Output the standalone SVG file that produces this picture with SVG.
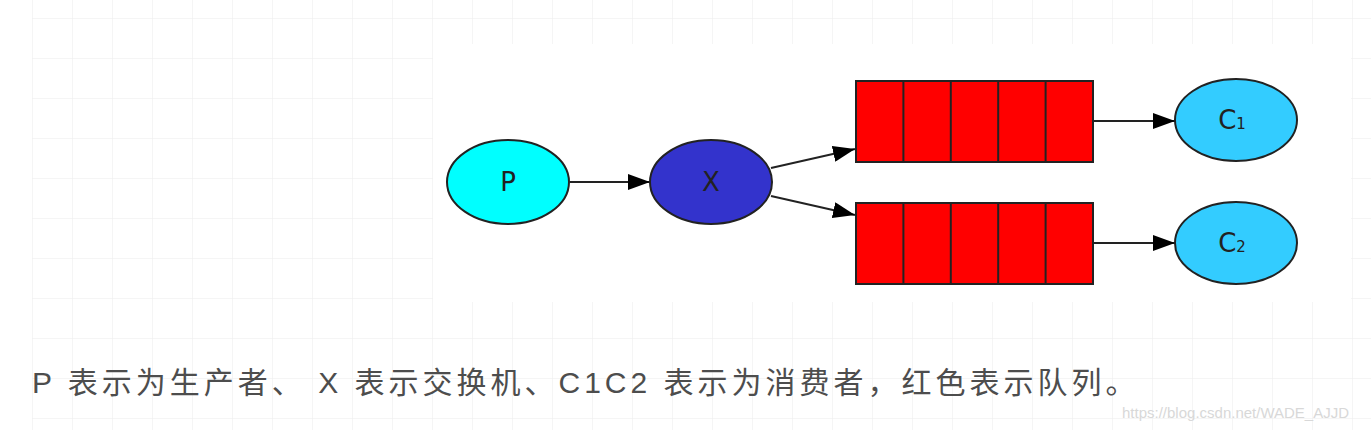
<svg xmlns="http://www.w3.org/2000/svg" width="1371" height="430" viewBox="0 0 1371 430">
<defs>
<pattern id="grid" x="32" y="18" width="40" height="40" patternUnits="userSpaceOnUse">
<path d="M0 0H40M0 0V40" fill="none" stroke="#ececec" stroke-width="1"/>
</pattern>
<marker id="arr" markerWidth="22" markerHeight="16" refX="22" refY="8" orient="auto" markerUnits="userSpaceOnUse" viewBox="0 0 22 16">
<path d="M0 0L22 8L0 16Z" fill="#000"/>
</marker>
<style>
.e{stroke:#222;stroke-width:2}
.q{fill:#ff0000;stroke:#222;stroke-width:2}
.t{font-family:"DejaVu Sans","Liberation Sans",sans-serif;font-size:26px;fill:#222;text-anchor:middle}
.c{stroke:#222;stroke-width:2;fill:none;marker-end:url(#arr)}
</style>
</defs>
<rect width="1371" height="430" fill="#fff"/>
<rect x="32" y="0" width="1339" height="430" fill="url(#grid)"/>
<rect x="433" y="44" width="918" height="258" fill="#fff"/>
<g id="P"><ellipse class="e" cx="508" cy="182" rx="61" ry="42" fill="#00ffff"/><text class="t" x="508" y="191">P</text></g>
<g id="X"><ellipse class="e" cx="711" cy="182" rx="61" ry="42" fill="#3333cc"/><text class="t" x="711" y="191">X</text></g>
<g id="Q1"><rect class="q" x="856" y="81" width="237" height="81"/><path d="M903.4 81V162M950.8 81V162M998.2 81V162M1045.6 81V162" stroke="#222" stroke-width="2"/></g>
<g id="Q2"><rect class="q" x="856" y="203" width="237" height="81"/><path d="M903.4 203V284M950.8 203V284M998.2 203V284M1045.6 203V284" stroke="#222" stroke-width="2"/></g>
<g id="C1"><ellipse class="e" cx="1236" cy="120" rx="61" ry="41" fill="#33ccff"/><text class="t" x="1232" y="129">C<tspan font-size="15">1</tspan></text></g>
<g id="C2"><ellipse class="e" cx="1236" cy="243" rx="61" ry="41" fill="#33ccff"/><text class="t" x="1232" y="252">C<tspan font-size="15">2</tspan></text></g>
<g id="connectors">
<path class="c" d="M570 182H650"/>
<path class="c" d="M771 168L855 149"/>
<path class="c" d="M771 196L855 215"/>
<path class="c" d="M1093 121H1175"/>
<path class="c" d="M1093 243H1175"/>
</g>
<text x="32" y="393" font-family="'Liberation Sans','Noto Sans CJK SC',sans-serif" font-size="30" fill="#4d4d4d" letter-spacing="4">P 表示为生产者、 X 表示交换机、C1C2 表示为消费者，红色表示队列。</text>
<text x="1122" y="418" font-family="'Liberation Sans',sans-serif" font-size="15" fill="#d8d8d8">https://blog.csdn.net/WADE_AJJD</text>
</svg>
